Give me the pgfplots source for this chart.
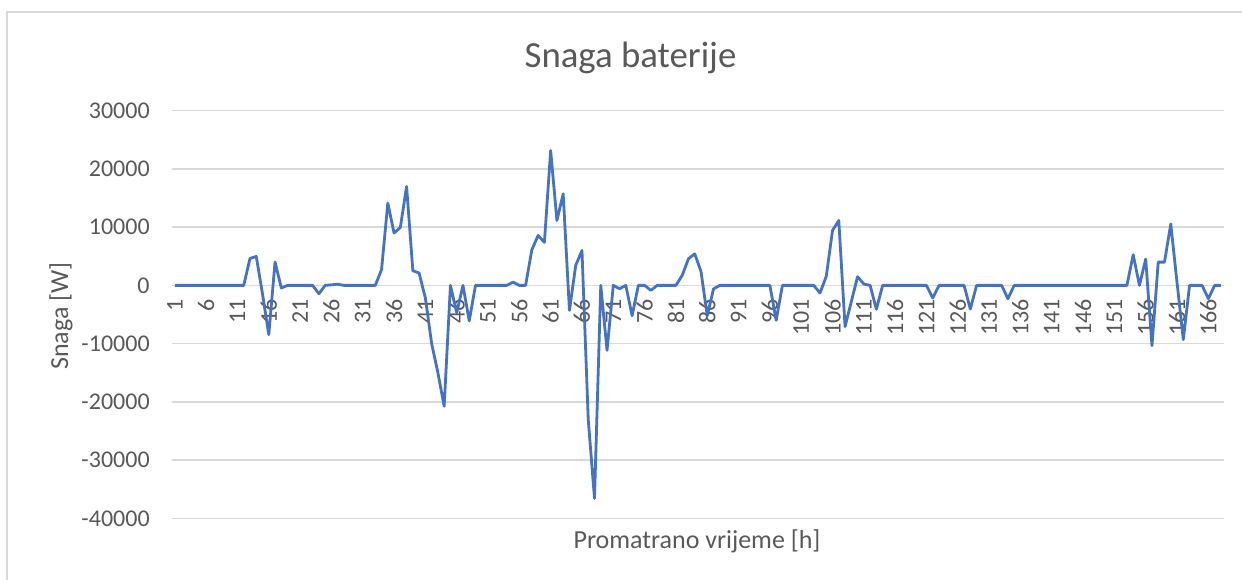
\documentclass[border=0pt]{standalone}
\usepackage{pgfplots}
\pgfplotsset{compat=1.18}
\usepackage{fontspec}
\setmainfont{Carlito}
\definecolor{txtgray}{HTML}{595959}
\definecolor{gridgray}{HTML}{D9D9D9}
\definecolor{xlblue}{HTML}{4472C4}
\begin{document}
\begin{tikzpicture}
\useasboundingbox (0,0) rectangle (621bp,290bp);
% chart area frame (only left and top edges visible in the crop)
\draw[gridgray, line width=0.75bp] (3.5bp,0) -- (3.5bp,284bp) -- (621bp,284bp);
\begin{axis}[
    at={(85.85bp,30.85bp)}, anchor=south west,
    scale only axis,
    width=526.15bp, height=203.8bp,
    xmin=0.5, xmax=168.5,
    ymin=-40000, ymax=30000,
    axis x line*=middle,
    axis y line*=left,
    x axis line style={draw=gridgray, line width=0.75bp},
    y axis line style={draw=none},
    xtick={1,6,...,166},
    ytick={-40000,-30000,...,30000},
    major tick length=0pt,
    hide obscured x ticks=false,
    ymajorgrids,
    grid style={gridgray, line width=0.75bp},
    scaled y ticks=false,
    /pgf/number format/assume math mode=true,
    /pgf/number format/1000 sep={},
    tick label style={font=\fontsize{12bp}{14bp}\selectfont, text=txtgray},
    x tick label style={yshift=-3.5bp, rotate=90, anchor=east},
    y tick label style={xshift=-7.5bp},
  ]
\addplot[xlblue, line width=1.4bp, line join=round] coordinates {
(1,0) (2,0) (3,0) (4,0) (5,0) (6,0) (7,0) (8,0) (9,0) (10,0)
(11,0) (12,0) (13,4630) (14,4970) (15,-1500) (16,-8460) (17,4010) (18,-450) (19,0) (20,0)
(21,0) (22,0) (23,0) (24,-1430) (25,0) (26,100) (27,200) (28,0) (29,0) (30,0)
(31,0) (32,0) (33,0) (34,2690) (35,14130) (36,8990) (37,9950) (38,16980) (39,2520) (40,2120)
(41,-2170) (42,-10000) (43,-15000) (44,-20760) (45,0) (46,-4700) (47,0) (48,-6100) (49,0) (50,0)
(51,0) (52,0) (53,0) (54,0) (55,570) (56,0) (57,0) (58,6120) (59,8580) (60,7380)
(61,23160) (62,11150) (63,15730) (64,-4290) (65,3430) (66,6000) (67,-23040) (68,-36590) (69,0) (70,-11150)
(71,0) (72,-570) (73,0) (74,-5200) (75,0) (76,0) (77,-860) (78,0) (79,0) (80,0)
(81,0) (82,1720) (83,4570) (84,5430) (85,2400) (86,-5200) (87,-600) (88,0) (89,0) (90,0)
(91,0) (92,0) (93,0) (94,0) (95,0) (96,0) (97,-6000) (98,0) (99,0) (100,0)
(101,0) (102,0) (103,0) (104,-1310) (105,1550) (106,9440) (107,11150) (108,-7080) (109,-2800) (110,1500)
(111,230) (112,0) (113,-4100) (114,0) (115,0) (116,0) (117,0) (118,0) (119,0) (120,0)
(121,0) (122,-2170) (123,0) (124,0) (125,0) (126,0) (127,0) (128,-4060) (129,0) (130,0)
(131,0) (132,0) (133,0) (134,-2290) (135,0) (136,0) (137,0) (138,0) (139,0) (140,0)
(141,0) (142,0) (143,0) (144,0) (145,0) (146,0) (147,0) (148,0) (149,0) (150,0)
(151,0) (152,0) (153,0) (154,5260) (155,0) (156,4520) (157,-10340) (158,4000) (159,4000) (160,10550)
(161,500) (162,-9310) (163,0) (164,0) (165,0) (166,-2290) (167,0) (168,0)
};
\end{axis}
\node[text=txtgray, font=\fontsize{18.4bp}{21bp}\selectfont] at (315.25bp,261bp) {Snaga baterije};
\node[text=txtgray, font=\fontsize{13bp}{15bp}\selectfont] at (348.5bp,19.5bp) {Promatrano vrijeme [h]};
\node[text=txtgray, font=\fontsize{13bp}{15bp}\selectfont, rotate=90] at (30.5bp,132bp) {Snaga [W]};
\end{tikzpicture}
\end{document}
